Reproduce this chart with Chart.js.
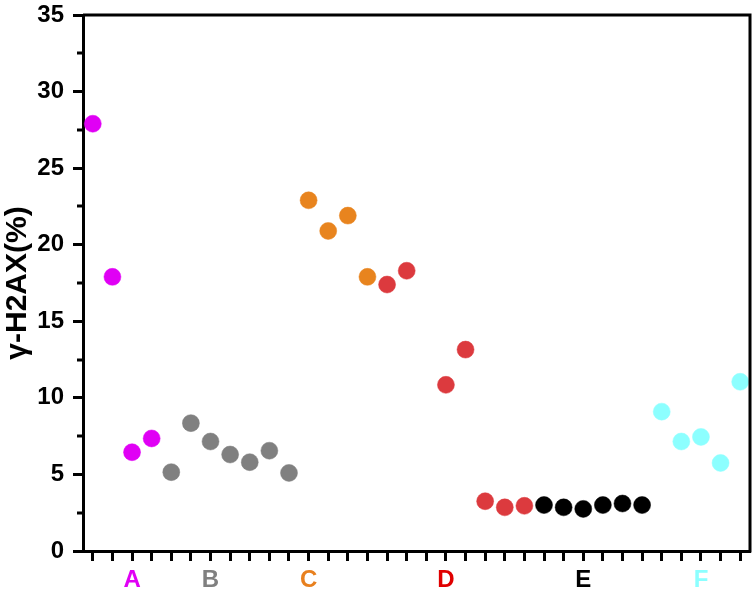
<!DOCTYPE html>
<html>
<head>
<meta charset="utf-8">
<script src="https://cdn.jsdelivr.net/npm/chart.js@4.4.1/dist/chart.umd.min.js"></script>
<style>
  html, body { margin: 0; padding: 0; background: #fff; }
  #wrap { width: 755px; height: 595px; }
</style>
</head>
<body>
<div id="wrap"><canvas id="chart" width="755" height="595"></canvas></div>
<script>
// group labels under the x axis and the slot they sit on
const groupNames = ['A', 'B', 'C', 'D', 'E', 'F'];
const groupLabelSlots = [2, 6, 11, 18, 25, 31];
const groupColors = ['#e000f5', '#808080', '#e8841e', '#dc3a3e', '#000000', '#8cffff'];
const groupLabelColors = ['#e000f5', '#808080', '#e8801e', '#e00000', '#000000', '#8cffff'];

// slots (x positions in units) and values for every group
const slotsA = [0, 1, 2, 3];
const valuesA = [27.9, 17.9, 6.45, 7.35];
const slotsB = [4, 5, 6, 7, 8, 9, 10];
const valuesB = [5.15, 8.35, 7.15, 6.3, 5.8, 6.55, 5.1];
const slotsC = [11, 12, 13, 14];
const valuesC = [22.9, 20.9, 21.9, 17.9];
const slotsD = [15, 16, 18, 19, 20, 21, 22];
const valuesD = [17.4, 18.3, 10.85, 13.15, 3.25, 2.85, 2.95];
const slotsE = [23, 24, 25, 26, 27, 28];
const valuesE = [3.0, 2.85, 2.75, 3.0, 3.1, 3.0];
const slotsF = [29, 30, 31, 32, 33];
const valuesF = [9.1, 7.15, 7.45, 5.75, 11.05];

const slotCount = 34;
const yTicks = [0, 5, 10, 15, 20, 25, 30, 35];
const yMinorTicks = [2.5, 7.5, 12.5, 17.5, 22.5, 27.5, 32.5];

const allSlots = [slotsA, slotsB, slotsC, slotsD, slotsE, slotsF];
const allValues = [valuesA, valuesB, valuesC, valuesD, valuesE, valuesF];

const datasets = groupNames.map((name, g) => ({
  label: name,
  data: allSlots[g].map((s, i) => ({ x: s, y: allValues[g][i] })),
  pointRadius: 8.5,
  pointHoverRadius: 8.5,
  pointBorderWidth: 0.5,
  pointBackgroundColor: groupColors[g],
  pointBorderColor: groupColors[g]
}));

// top / right frame and the short minor ticks on the y axis
const framePlugin = {
  id: 'frame',
  afterDraw(chart) {
    const { ctx, chartArea } = chart;
    const y = chart.scales.y;
    ctx.save();
    ctx.strokeStyle = '#000';
    ctx.lineWidth = 3;
    ctx.beginPath();
    ctx.moveTo(chartArea.left, chartArea.top);
    ctx.lineTo(chartArea.right, chartArea.top);
    ctx.lineTo(chartArea.right, chartArea.bottom + 1.5);
    ctx.stroke();
    yMinorTicks.forEach(v => {
      const py = Math.round(y.getPixelForValue(v));
      ctx.beginPath();
      ctx.moveTo(chartArea.left - 6, py);
      ctx.lineTo(chartArea.left, py);
      ctx.stroke();
    });
    ctx.restore();
  }
};

new Chart(document.getElementById('chart'), {
  type: 'scatter',
  data: { datasets: datasets },
  options: {
    responsive: false,
    animation: false,
    layout: { autoPadding: false, padding: { left: 0, top: 15, right: 5, bottom: 0 } },
    plugins: {
      legend: { display: false },
      tooltip: { enabled: false }
    },
    scales: {
      x: {
        type: 'linear',
        min: -0.5,
        max: 33.5,
        afterFit(scale) {
          scale.height = 44;
          scale.paddingLeft = 0;
          scale.paddingRight = 0;
        },
        afterBuildTicks(scale) {
          scale.ticks = Array.from({ length: slotCount }, (_, i) => ({ value: i }));
        },
        border: { color: '#000', width: 3 },
        grid: { drawOnChartArea: false, tickLength: 10, tickWidth: 3, tickColor: '#000' },
        ticks: {
          autoSkip: false,
          maxRotation: 0,
          padding: 5,
          font: { family: 'Liberation Sans', size: 24, weight: 'bold' },
          color: ctx => {
            const g = groupLabelSlots.indexOf(ctx.tick.value);
            return g >= 0 ? groupLabelColors[g] : '#000';
          },
          callback: v => {
            const g = groupLabelSlots.indexOf(v);
            return g >= 0 ? groupNames[g] : '';
          }
        }
      },
      y: {
        min: 0,
        max: 35,
        afterFit(scale) {
          scale.width = 83;
          scale.paddingTop = 0;
          scale.paddingBottom = 0;
        },
        afterBuildTicks(scale) {
          scale.ticks = yTicks.map(v => ({ value: v }));
        },
        border: { color: '#000', width: 3 },
        grid: { drawOnChartArea: false, tickLength: 10, tickWidth: 3, tickColor: '#000' },
        ticks: {
          padding: 9,
          color: '#000',
          font: { family: 'Liberation Sans', size: 24, weight: 'bold' }
        },
        title: {
          display: true,
          text: 'γ-H2AX(%)',
          color: '#000',
          padding: 0,
          font: { family: 'Liberation Sans', size: 30, weight: 'bold' }
        }
      }
    }
  },
  plugins: [framePlugin]
});
</script>
</body>
</html>
